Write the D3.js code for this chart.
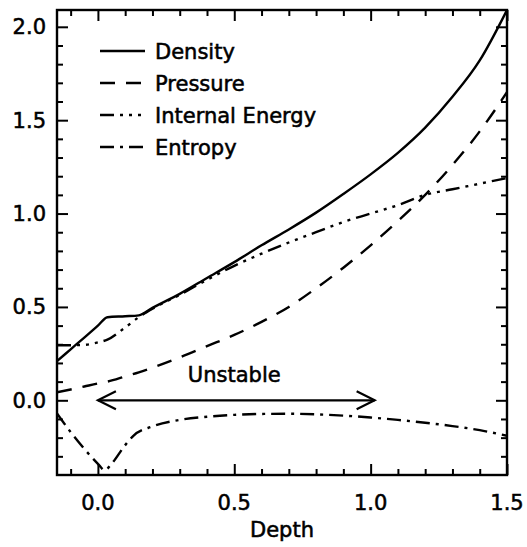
<!DOCTYPE html>
<html>
<head>
<meta charset="utf-8">
<script src="https://cdn.jsdelivr.net/npm/d3@7"></script>
<style>
  html, body { margin: 0; padding: 0; background: #fff; }
  svg { display: block; }
  text { font-family: "DejaVu Sans", sans-serif; fill: #000; stroke: #000; stroke-width: 0.55px; }
</style>
</head>
<body>
<svg id="chart" width="527" height="547"></svg>
<script>
// Profiles versus depth
const depth = [-0.15, -0.1, -0.05, 0.0, 0.035, 0.1, 0.15, 0.2, 0.3, 0.4, 0.5, 0.6, 0.7, 0.8, 0.9, 1.0, 1.1, 1.2, 1.3, 1.4, 1.5];
const density = [0.21, 0.273, 0.336, 0.40, 0.445, 0.45, 0.455, 0.495, 0.57, 0.655, 0.74, 0.83, 0.915, 1.005, 1.105, 1.21, 1.325, 1.46, 1.625, 1.82, 2.09];
const pressure = [0.043, 0.058, 0.074, 0.09, 0.10, 0.128, 0.15, 0.175, 0.23, 0.29, 0.35, 0.42, 0.50, 0.60, 0.71, 0.83, 0.96, 1.10, 1.26, 1.44, 1.65];
const internalEnergy = [0.295, 0.295, 0.297, 0.31, 0.325, 0.39, 0.445, 0.49, 0.565, 0.645, 0.72, 0.785, 0.845, 0.90, 0.955, 1.0, 1.045, 1.10, 1.13, 1.16, 1.19];

const entropyDepth = [-0.15, -0.1, -0.05, 0.0, 0.025, 0.05, 0.1, 0.13, 0.2, 0.3, 0.4, 0.5, 0.6, 0.7, 0.8, 0.9, 1.0, 1.1, 1.2, 1.3, 1.4, 1.5];
const entropy = [-0.07, -0.17, -0.26, -0.34, -0.375, -0.34, -0.24, -0.19, -0.14, -0.105, -0.088, -0.078, -0.073, -0.072, -0.075, -0.082, -0.092, -0.105, -0.12, -0.138, -0.16, -0.19];

const seriesNames = ["Density", "Pressure", "Internal Energy", "Entropy"];
const xTickLabels = ["0.0", "0.5", "1.0", "1.5"];
const yTickLabels = ["0.0", "0.5", "1.0", "1.5", "2.0"];
const unstableRange = [0.0, 1.0];
const unstableLevel = 0.0;
const unstableLabel = "Unstable";

const svg = d3.select("#chart");
const frame = { left: 57, right: 507, top: 10, bottom: 475 };

const x = d3.scaleLinear().domain([-0.15, 1.5]).range([frame.left, frame.right]);
const y = d3.scaleLinear().domain([-0.4, 2.09]).range([frame.bottom, frame.top]);

const styles = {
  "Density": null,
  "Pressure": "15,11",
  "Internal Energy": "14,6,3,6,3,6,3,6",
  "Entropy": "14,6,3,6"
};

svg.append("defs").append("clipPath").attr("id", "plotClip")
  .append("rect")
  .attr("x", frame.left).attr("y", frame.top)
  .attr("width", frame.right - frame.left).attr("height", frame.bottom - frame.top);

// Curves
const line = d3.line()
  .x(d => x(d[0]))
  .y(d => y(d[1]))
  .curve(d3.curveMonotoneX);

const curves = [
  { name: "Density", pts: d3.zip(depth, density) },
  { name: "Pressure", pts: d3.zip(depth, pressure) },
  { name: "Internal Energy", pts: d3.zip(depth, internalEnergy) },
  { name: "Entropy", pts: d3.zip(entropyDepth, entropy) }
];

const plot = svg.append("g").attr("clip-path", "url(#plotClip)");
plot.selectAll("path.curve")
  .data(curves)
  .join("path")
  .attr("class", "curve")
  .attr("d", d => line(d.pts))
  .attr("fill", "none")
  .attr("stroke", "#000")
  .attr("stroke-width", 2.4)
  .attr("stroke-dasharray", d => styles[d.name]);

// Axes with inward ticks on all four sides
const majorX = xTickLabels.map(Number);
const minorX = d3.range(-0.1, 1.5001, 0.1).map(v => +v.toFixed(2)).filter(v => !majorX.some(m => Math.abs(m - v) < 1e-6));
const majorY = yTickLabels.map(Number);
const minorY = d3.range(-0.3, 2.0501, 0.1).map(v => +v.toFixed(2)).filter(v => !majorY.some(m => Math.abs(m - v) < 1e-6));

function addAxis(axisFn, scale, transform, values, size) {
  const g = svg.append("g").attr("transform", transform)
    .call(axisFn(scale).tickValues(values).tickSize(size).tickFormat(""));
  g.select(".domain").remove();
  g.selectAll(".tick line").attr("stroke", "#000").attr("stroke-width", 2);
  return g;
}

addAxis(d3.axisBottom, x, `translate(0,${frame.bottom})`, majorX, -11);
addAxis(d3.axisBottom, x, `translate(0,${frame.bottom})`, minorX, -6);
addAxis(d3.axisTop, x, `translate(0,${frame.top})`, majorX, -11);
addAxis(d3.axisTop, x, `translate(0,${frame.top})`, minorX, -6);
addAxis(d3.axisLeft, y, `translate(${frame.left},0)`, majorY, -11);
addAxis(d3.axisLeft, y, `translate(${frame.left},0)`, minorY, -6);
addAxis(d3.axisRight, y, `translate(${frame.right},0)`, majorY, -11);
addAxis(d3.axisRight, y, `translate(${frame.right},0)`, minorY, -6);

svg.append("rect")
  .attr("x", frame.left).attr("y", frame.top)
  .attr("width", frame.right - frame.left).attr("height", frame.bottom - frame.top)
  .attr("fill", "none").attr("stroke", "#000").attr("stroke-width", 2.4);

// Tick labels
svg.append("g").selectAll("text")
  .data(xTickLabels)
  .join("text")
  .attr("x", d => x(+d))
  .attr("y", frame.bottom + 35)
  .attr("text-anchor", "middle")
  .attr("font-size", 21)
  .text(d => d);

svg.append("g").selectAll("text")
  .data(yTickLabels)
  .join("text")
  .attr("x", frame.left - 11)
  .attr("y", d => y(+d))
  .attr("dy", "0.36em")
  .attr("text-anchor", "end")
  .attr("font-size", 21)
  .text(d => d);

svg.append("text")
  .attr("x", (frame.left + frame.right) / 2)
  .attr("y", 537)
  .attr("text-anchor", "middle")
  .attr("font-size", 21)
  .text("Depth");

// Unstable range arrow
const ay = y(unstableLevel);
const ax0 = x(unstableRange[0]), ax1 = x(unstableRange[1]);
const arrow = svg.append("g").attr("stroke", "#000").attr("stroke-width", 2.2).attr("fill", "none");
arrow.append("line").attr("x1", ax0).attr("x2", ax1 + 4).attr("y1", ay).attr("y2", ay);
arrow.append("path").attr("d", `M${ax0 + 18},${ay - 9}L${ax0},${ay}L${ax0 + 18},${ay + 9}`);
arrow.append("path").attr("d", `M${ax1 - 14},${ay - 9}L${ax1 + 4},${ay}L${ax1 - 14},${ay + 9}`);

svg.append("text")
  .attr("x", (ax0 + ax1) / 2)
  .attr("y", ay - 18)
  .attr("text-anchor", "middle")
  .attr("font-size", 21)
  .text(unstableLabel);

// Legend
const legend = svg.append("g");
const legendRows = seriesNames.map((name, i) => ({ name, yPos: 51 + i * 32 }));
legend.selectAll("line")
  .data(legendRows)
  .join("line")
  .attr("x1", 100).attr("x2", 145)
  .attr("y1", d => d.yPos).attr("y2", d => d.yPos)
  .attr("stroke", "#000")
  .attr("stroke-width", 2.4)
  .attr("stroke-dasharray", d => styles[d.name]);
legend.selectAll("text")
  .data(legendRows)
  .join("text")
  .attr("x", 155)
  .attr("y", d => d.yPos)
  .attr("dy", "0.36em")
  .attr("font-size", 21)
  .text(d => d.name);
</script>
</body>
</html>
